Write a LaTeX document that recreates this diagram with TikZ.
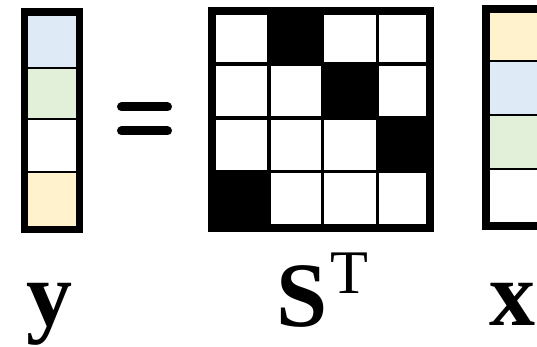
\documentclass[tikz,border=0pt]{standalone}
\usepackage{fontspec}
\setmainfont{Liberation Serif}
\definecolor{cellblue}{HTML}{DEEBF7}
\definecolor{cellgreen}{HTML}{E2F0D9}
\definecolor{cellyellow}{HTML}{FFF2CC}
\tikzset{
  vecframe/.style={draw=black, line width=7.5pt},
  matframe/.style={draw=black, line width=8pt},
  sepline/.style={draw=black, line width=1.6pt},
  gridline/.style={draw=black, line width=3.5pt},
  eqbar/.style={draw=black, line width=9pt, line cap=round},
  veclabel/.style={inner sep=0pt, anchor=base, font=\fontsize{92}{92}\selectfont\bfseries},
  suplabel/.style={inner sep=0pt, anchor=base, font=\fontsize{62}{62}\selectfont}
}
\begin{document}
\begin{tikzpicture}[x=1pt, y=-1pt]
  \useasboundingbox (0,0) rectangle (537,347);
  \clip (0,0) rectangle (537,347);

  % vector y
  \foreach \ya/\yb/\col in {12/68/cellblue, 68/119/cellgreen, 119/172/white, 172/229.5/cellyellow}
    \fill[\col] (24.5,\ya) rectangle (79.5,\yb);
  \foreach \sy in {68,119,172}
    \draw[sepline] (24.5,\sy) -- (79.5,\sy);
  \draw[vecframe] (24.5,12) rectangle (79.5,229.5);

  % equals sign
  \draw[eqbar] (121.5,107) -- (167.5,107);
  \draw[eqbar] (121.5,131) -- (167.5,131);

  % matrix S^T
  \fill[white] (212,11) rectangle (430,228);
  \foreach \xa/\xb/\ya/\yb in {269/322.5/11/64, 322.5/377.5/64/118, 377.5/430/118/171.5, 212/269/171.5/228}
    \fill[black] (\xa,\ya) rectangle (\xb,\yb);
  \foreach \gx in {269,322.5,377.5}
    \draw[gridline] (\gx,11) -- (\gx,228);
  \foreach \gy in {64,118,171.5}
    \draw[gridline] (212,\gy) -- (430,\gy);
  \draw[matframe] (212,11) rectangle (430,228);

  % vector x
  \foreach \ya/\yb/\col in {9/61/cellyellow, 61/115/cellblue, 115/169/cellgreen, 169/226/white}
    \fill[\col] (486,\ya) rectangle (541,\yb);
  \foreach \sy in {61,115,169}
    \draw[sepline] (486,\sy) -- (541,\sy);
  \draw[vecframe] (486,9) rectangle (541,226);

  % labels
  \node[veclabel] (ylabel) at (49,325) {y};
  \node[veclabel] (slabel) at (302.5,326) {S};
  \node[suplabel] (tlabel) at (349,293) {T};
  \node[veclabel] (xlabel) at (512.5,325) {x};
\end{tikzpicture}
\end{document}
